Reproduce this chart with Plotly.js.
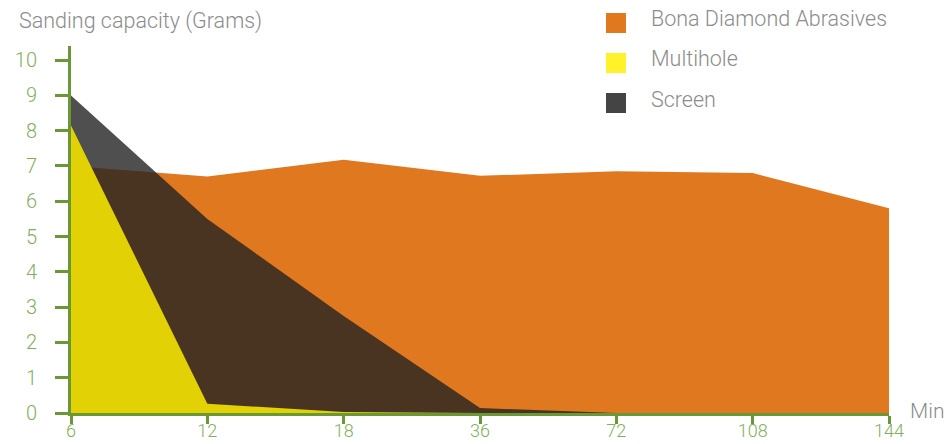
<!DOCTYPE html>
<html><head><meta charset="utf-8">
<script src="https://cdn.plot.ly/plotly-3.0.1.min.js"></script>
<style>html,body{margin:0;padding:0;background:#fff}#chart{width:944px;height:444px}</style>
</head><body><div id="chart"></div>
<script>
const minutes = ['6','12','18','36','72','108','144'];
const bona = [7.0, 6.7, 7.18, 6.72, 6.85, 6.8, 5.8];
const screen = [9.0, 5.5, 2.75, 0.14, 0, 0, 0];
const multihole = [8.15, 0.26, 0.03, 0, 0, 0, 0];
const seriesNames = ['Bona Diamond Abrasives', 'Multihole', 'Screen'];
const yTicks = [0,1,2,3,4,5,6,7,8,9,10];

const cOrange = '#E07820', cYellow = '#E2D104', cYellowLeg = '#FFF22A', cDark = 'rgba(35,35,35,0.8)', cDarkLeg = '#444444';
const green = '#6B9837', greenTxt = '#84AE5E', grey = '#8c8c8c';
const FONT = 'Roboto, "Liberation Sans", sans-serif';

const traces = [
  {x: minutes, y: bona, name: seriesNames[0], type: 'scatter', mode: 'lines', fill: 'tozeroy', line: {width: 0, color: cOrange}, fillcolor: cOrange, showlegend: false, hoverinfo: 'skip'},
  {x: minutes, y: screen, name: seriesNames[2], type: 'scatter', mode: 'lines', fill: 'tozeroy', line: {width: 0, color: cDark}, fillcolor: cDark, showlegend: false, hoverinfo: 'skip'},
  {x: minutes, y: multihole, name: seriesNames[1], type: 'scatter', mode: 'lines', fill: 'tozeroy', line: {width: 0, color: cYellow}, fillcolor: cYellow, showlegend: false, hoverinfo: 'skip'}
];

const legColors = [cOrange, cYellowLeg, cDarkLeg];
const shapes = [], annotations = [];
const H = 444, W = 944;
seriesNames.forEach((n, i) => {
  const yc = 23 + i * 40;
  shapes.push({type: 'rect', xref: 'paper', yref: 'paper',
    x0: (606 - 71) / 818, x1: (626 - 71) / 818,
    y0: (413 - (yc + 10)) / 367, y1: (413 - (yc - 10)) / 367,
    fillcolor: legColors[i], line: {width: 0}, layer: 'above'});
  annotations.push({xref: 'paper', yref: 'paper', x: (649 - 71) / 818, y: (413 - yc + 4) / 367,
    xanchor: 'left', yanchor: 'middle', text: n, showarrow: false,
    font: {family: FONT, size: 21.5, color: grey, weight: 300}});
});
annotations.push({xref: 'paper', yref: 'paper', x: (908 - 71) / 818, y: (413 - 411) / 367,
  xanchor: 'left', yanchor: 'middle', text: 'Min', showarrow: false,
  font: {family: FONT, size: 21, color: grey, weight: 300}});

const layout = {
  width: W, height: H,
  margin: {l: 71, r: 55, t: 46, b: 31, pad: 0},
  paper_bgcolor: '#fff', plot_bgcolor: '#fff',
  showlegend: false,
  title: {text: 'Sanding capacity (Grams)', xref: 'container', yref: 'container', x: 19 / W, xanchor: 'left', y: 1 - 20 / H, yanchor: 'middle',
    font: {family: FONT, size: 21.5, color: grey, weight: 300}},
  xaxis: {type: 'category', range: [0, 6], showgrid: false, zeroline: false,
    showline: true, linecolor: green, linewidth: 3,
    ticks: 'outside', ticklen: 8, tickwidth: 3, tickcolor: green, ticklabelstandoff: -9,
    tickfont: {family: FONT, size: 18, color: greenTxt, weight: 300}, fixedrange: true},
  yaxis: {range: [0, 10.4], tickvals: yTicks, showgrid: false, zeroline: false,
    showline: true, linecolor: green, linewidth: 3,
    ticks: 'outside', ticklen: 13, tickwidth: 3, tickcolor: green, ticklabelstandoff: 14,
    tickfont: {family: FONT, size: 20, color: greenTxt, weight: 300}, fixedrange: true},
  shapes: shapes, annotations: annotations
};
Plotly.newPlot('chart', traces, layout, {displayModeBar: false, staticPlot: true});
</script></body></html>
